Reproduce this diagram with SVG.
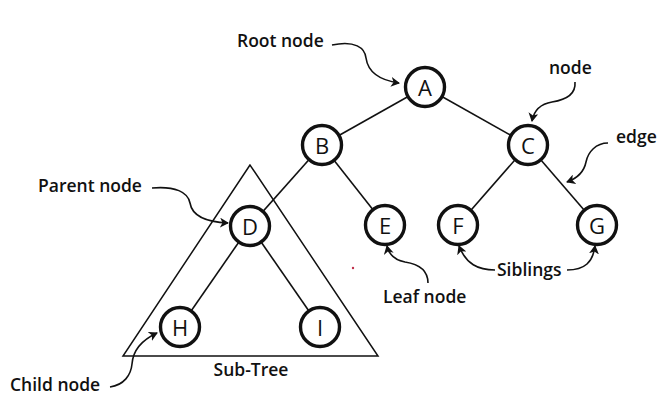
<svg xmlns="http://www.w3.org/2000/svg" width="671" height="413" viewBox="0 0 671 413">
<style>
.edge{stroke:#111;stroke-width:1.6;fill:none}
.node circle{fill:#fff;stroke:#111;stroke-width:3.4}
.node text{font-family:"Open Sans","Noto Sans",sans-serif;font-size:22px;fill:#111;text-anchor:middle;dominant-baseline:central}
.lbl{font-family:"Open Sans","Noto Sans",sans-serif;font-size:17.5px;font-weight:600;fill:#111}
.ann{stroke:#111;stroke-width:1.6;fill:none;marker-end:url(#ah)}
</style>
<defs>
<marker id="ah" markerWidth="10" markerHeight="10" refX="8" refY="5" orient="auto" markerUnits="userSpaceOnUse">
<path d="M0,0 L9,5 L0,10 L2.5,5 Z" fill="#111"/>
</marker>
</defs>
<rect width="671" height="413" fill="#fff"/>
<g id="subtree">
<polygon points="250,165 123,356 378,356" fill="none" stroke="#111" stroke-width="1.5"/>
<text class="lbl" x="251" y="376" text-anchor="middle">Sub-Tree</text>
</g>
<g id="connectors">
<line class="edge" x1="425" y1="87" x2="322" y2="145"/>
<line class="edge" x1="425" y1="87" x2="528" y2="145"/>
<line class="edge" x1="322" y1="145" x2="250" y2="226"/>
<line class="edge" x1="322" y1="145" x2="385" y2="225"/>
<line class="edge" x1="528" y1="145" x2="458" y2="225"/>
<line class="edge" x1="528" y1="145" x2="597" y2="225"/>
<line class="edge" x1="250" y1="226" x2="180" y2="327"/>
<line class="edge" x1="250" y1="226" x2="320" y2="327"/>
</g>
<g id="nA" class="node"><circle cx="425" cy="87" r="19.5"/><text x="425" y="87">A</text></g>
<g id="nB" class="node"><circle cx="322" cy="145" r="19.5"/><text x="322" y="145">B</text></g>
<g id="nC" class="node"><circle cx="528" cy="145" r="19.5"/><text x="528" y="145">C</text></g>
<g id="nD" class="node"><circle cx="250" cy="226" r="19.5"/><text x="250" y="226">D</text></g>
<g id="nE" class="node"><circle cx="385" cy="225" r="19.5"/><text x="385" y="225">E</text></g>
<g id="nF" class="node"><circle cx="458" cy="225" r="19.5"/><text x="458" y="225">F</text></g>
<g id="nG" class="node"><circle cx="597" cy="225" r="19.5"/><text x="597" y="225">G</text></g>
<g id="nH" class="node"><circle cx="180" cy="327" r="19.5"/><text x="180" y="327">H</text></g>
<g id="nI" class="node"><circle cx="320" cy="327" r="19.5"/><text x="320" y="327">I</text></g>
<g id="annotations">
<text class="lbl" x="237" y="47">Root node</text>
<path class="ann" d="M332,45 C355,40 365,48 366,58 C368,72 378,80 399,83"/>
<text class="lbl" x="549" y="74">node</text>
<path class="ann" d="M575,82 C576,95 565,100 552,102 C540,104 534,110 532,121"/>
<text class="lbl" x="616" y="143">edge</text>
<path class="ann" d="M608,143 C596,143 588,152 586,162 C584,172 578,178 567,182"/>
<text class="lbl" x="38" y="192">Parent node</text>
<path class="ann" d="M152,188 C175,186 188,192 190,203 C192,215 205,222 228,223"/>
<text class="lbl" x="10" y="391">Child node</text>
<path class="ann" d="M110,387 C124,385 131,375 132,364 C133,350 142,340 157,333"/>
<text class="lbl" x="383" y="303">Leaf node</text>
<path class="ann" d="M428,283 C428,270 418,264 405,262 C395,260 389,255 387,246"/>
<text class="lbl" x="497" y="276">Siblings</text>
<path class="ann" d="M495,270 C478,270 466,264 459,246"/>
<path class="ann" d="M567,270 C585,270 593,262 595,246"/>
<circle cx="353" cy="268" r="1.2" fill="#c0304a"/>
</g>
</svg>
